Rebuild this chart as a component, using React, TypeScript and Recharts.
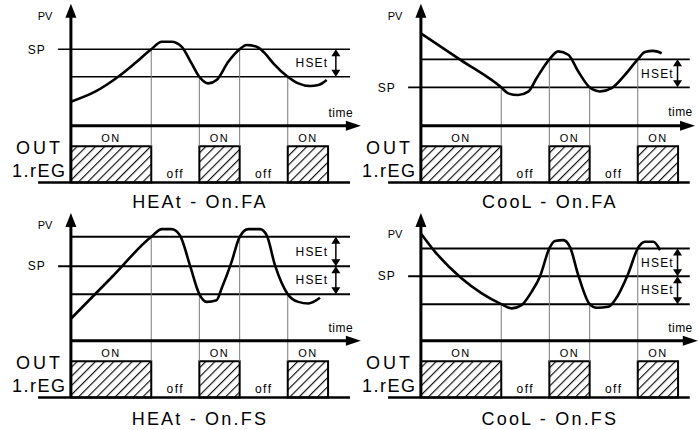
import React from 'react';
import { ComposedChart, Line, XAxis, YAxis, ReferenceLine, ReferenceArea, ReferenceDot } from 'recharts';

const FONT = "'Liberation Sans', Arial, sans-serif";

// PV curves (time units / PV units)
const HEAT_FA_T = [0, 8.7, 17.0, 23.0, 28.9, 32.7, 36.2, 39.8, 43.4, 46.2, 49.4, 52.4, 56.6, 60.7, 63.2, 66.8, 69.8, 72.8, 78.0, 81.8, 86.0, 89.0, 92.0];
const HEAT_FA_PV = [19.9, 28.2, 40.6, 51.7, 63.4, 69.6, 69.6, 65.5, 51.7, 40.6, 35.1, 37.9, 53.0, 63.4, 66.9, 65.5, 60.0, 51.7, 40.6, 35.1, 32.9, 33.7, 37.9];

const COOL_FA_T = [0, 14.5, 28.9, 31.4, 35.0, 38.6, 41.6, 46.2, 49.4, 53.0, 56.6, 60.7, 64.4, 68.6, 73.4, 78.0, 80.6, 83.5, 86.6];
const COOL_FA_PV = [76.6, 54.2, 31.8, 26.8, 25.4, 28.2, 39.3, 55.0, 61.6, 58.8, 45.0, 31.8, 28.4, 31.2, 42.2, 55.0, 61.0, 62.0, 60.1];

const HEAT_FS_T = [0, 14.5, 28.9, 32.7, 36.2, 39.2, 42.8, 46.2, 48.8, 52.4, 54.2, 57.8, 60.7, 63.8, 68.0, 70.4, 73.4, 78.0, 81.8, 85.4, 89.6];
const HEAT_FS_PV = [18.2, 52.2, 86.1, 92.5, 92.5, 87.5, 62.6, 38.6, 32.2, 33.6, 43.3, 65.4, 86.1, 92.5, 92.5, 87.5, 62.6, 38.6, 32.2, 30.9, 35.6];

const COOL_FS_T = [0, 5.1, 14.7, 21.9, 28.9, 32.7, 36.2, 39.8, 42.8, 46.2, 48.2, 51.2, 53.6, 56.6, 60.7, 63.2, 67.4, 69.8, 74.6, 78.0, 80.6, 83.6, 86.0];
const COOL_FS_PV = [88.9, 73.7, 51.6, 39.2, 30.3, 26.8, 29.5, 40.5, 53.0, 76.5, 82.6, 83.4, 77.8, 54.4, 30.3, 27.3, 28.1, 33.7, 55.8, 76.5, 82.0, 82.0, 75.1];

// horizontal levels, top to bottom
const HEAT_FA_LEVELS = [63.4, 40.6];
const COOL_FA_LEVELS = [55.0, 31.8];
const HEAT_FS_LEVELS = [86.1, 61.8, 38.6];
const COOL_FS_LEVELS = [76.5, 53.5, 30.3];

// output switching instants and states
const SWITCH_T = [0, 28.9, 46.2, 60.7, 78.0, 92.5];
const OUT_STATES = ['ON', 'off', 'ON', 'off', 'ON'];
const TITLES = ['HEAt - On.FA', 'CooL - On.FA', 'HEAt - On.FS', 'CooL - On.FS'];

const BOX_TOP = -17;
const BASE = -47;

type Panel = {
  title: string;
  t: number[];
  pv: number[];
  levels: number[];
  sp: number;
  switchLevel: number[];
  left: number;
  top: number;
  lineEnd: number;
  timeTip: number;
  yTip: number;
  pvY: number;
  hsetX: number;
  arrowX: number;
  timeX: number;
  timeY: number;
  titleY: number;
  levelWidth: number;
};

const PANELS: Panel[] = [
  { title: TITLES[0], t: HEAT_FA_T, pv: HEAT_FA_PV, levels: HEAT_FA_LEVELS, sp: 0, switchLevel: [0, 1, 0, 1],
    left: 0, top: -7, lineEnd: 100.4, timeTip: 104.3, yTip: 101, pvY: 90.9, hsetX: 86.7, arrowX: 95.3, timeX: 101.5, timeY: 10.5, titleY: -62.8, levelWidth: 1.6 },
  { title: TITLES[1], t: COOL_FA_T, pv: COOL_FA_PV, levels: COOL_FA_LEVELS, sp: 1, switchLevel: [1, 0, 1, 0],
    left: 350, top: -7, lineEnd: 96.7, timeTip: 98.6, yTip: 101, pvY: 90.9, hsetX: 85.1, arrowX: 92.3, timeX: 97.8, timeY: 12, titleY: -62.8, levelWidth: 1.6 },
  { title: TITLES[2], t: HEAT_FS_T, pv: HEAT_FS_PV, levels: HEAT_FS_LEVELS, sp: 1, switchLevel: [0, 2, 0, 2],
    left: 0, top: 208, lineEnd: 100.4, timeTip: 104.3, yTip: 105.8, pvY: 95.8, hsetX: 86.7, arrowX: 95.3, timeX: 101.5, timeY: 10.4, titleY: -64.6, levelWidth: 2 },
  { title: TITLES[3], t: COOL_FS_T, pv: COOL_FS_PV, levels: COOL_FS_LEVELS, sp: 1, switchLevel: [2, 0, 2, 0],
    left: 350, top: 208, lineEnd: 96.7, timeTip: 99.6, yTip: 105.8, pvY: 88.4, hsetX: 85.1, arrowX: 92.3, timeX: 97.8, timeY: 10.5, titleY: -64.6, levelWidth: 2 },
];

const txt = (key: string, x: number, y: number, label: string, size: number, anchor = 'middle', spacing = 0) => (
  <ReferenceDot
    key={key}
    x={x}
    y={y}
    r={0}
    ifOverflow="visible"
    shape={(p: any) => (
      <text x={p.cx} y={p.cy} dy="0.36em" textAnchor={anchor} fontSize={size} fontFamily={FONT} letterSpacing={spacing} fill="#000">
        {label}
      </text>
    )}
  />
);

const head = (key: string, x: number, y: number, dir: string, len: number, wid: number) => (
  <ReferenceDot
    key={key}
    x={x}
    y={y}
    r={0}
    ifOverflow="visible"
    shape={(p: any) => {
      const { cx, cy } = p;
      let pts = '';
      if (dir === 'up') pts = `${cx},${cy} ${cx - wid / 2},${cy + len} ${cx + wid / 2},${cy + len}`;
      if (dir === 'down') pts = `${cx},${cy} ${cx - wid / 2},${cy - len} ${cx + wid / 2},${cy - len}`;
      if (dir === 'right') pts = `${cx},${cy} ${cx - len},${cy - wid / 2} ${cx - len},${cy + wid / 2}`;
      return <polygon points={pts} fill="#000" />;
    }}
  />
);

const seg = (key: string, x1: number, y1: number, x2: number, y2: number, w: number, color = '#000') => (
  <ReferenceLine key={key} segment={[{ x: x1, y: y1 }, { x: x2, y: y2 }]} stroke={color} strokeWidth={w} ifOverflow="visible" />
);

const PanelChart = ({ p }: { p: Panel }) => {
  const data = p.t.map((t, i) => ({ t, pv: p.pv[i] }));
  const items: React.ReactNode[] = [];

  // horizontal levels
  p.levels.forEach((lv, i) => {
    items.push(seg(`lv${i}`, i === p.sp ? -4.6 : 0, lv, p.lineEnd, lv, p.levelWidth));
  });

  // switching instants: thin verticals from the crossing level down to the output row
  SWITCH_T.slice(1, 5).forEach((t, i) => {
    items.push(seg(`sw${i}`, t, p.levels[p.switchLevel[i]], t, BOX_TOP, 1, '#7a7a7a'));
  });

  // output row boxes and labels
  OUT_STATES.forEach((s, i) => {
    const x1 = SWITCH_T[i];
    const x2 = SWITCH_T[i + 1];
    const mid = (x1 + x2) / 2;
    if (s === 'ON') {
      items.push(
        <ReferenceArea key={`box${i}`} x1={x1} x2={x2} y1={BASE} y2={BOX_TOP} fill="url(#hatch)" fillOpacity={1} stroke="#000" strokeWidth={2} ifOverflow="visible" />
      );
      items.push(txt(`on${i}`, mid, -10, s, 11, 'middle', 1.5));
    } else {
      items.push(txt(`off${i}`, mid, -39.4, s, 12, 'middle', 1.5));
    }
  });

  // HSEt arrows between consecutive levels
  for (let i = 0; i < p.levels.length - 1; i++) {
    const a = p.levels[i];
    const b = p.levels[i + 1];
    items.push(seg(`ha${i}`, p.arrowX, a - 3, p.arrowX, b + 3, 1.5));
    items.push(head(`hu${i}`, p.arrowX, a, 'up', 7, 9));
    items.push(head(`hd${i}`, p.arrowX, b, 'down', 7, 9));
    items.push(txt(`hs${i}`, p.hsetX, (a + b) / 2, 'HSEt', 12, 'middle', 1.2));
  }

  return (
    <div style={{ position: 'absolute', left: p.left, top: p.top }}>
      <ComposedChart width={372} height={222} data={data} margin={{ top: 0, right: 0, bottom: 0, left: 0 }}>
        <XAxis dataKey="t" type="number" domain={[-25.5, 108.3]} hide allowDataOverflow />
        <YAxis type="number" domain={[-74, 110]} hide allowDataOverflow />
        {items}
        {/* axes */}
        {seg('yaxis', 0, BASE, 0, p.yTip - 9, 3)}
        {head('ytip', 0, p.yTip, 'up', 14, 11)}
        {seg('taxis', 0, 0, p.timeTip - 4, 0, 3)}
        {head('ttip', p.timeTip, 0, 'right', 15, 10)}
        {seg('base', -11.8, BASE, p.lineEnd, BASE, 2.5)}
        {txt('pv', -9.3, p.pvY, 'PV', 11)}
        {txt('sp', -9.0, p.levels[p.sp], 'SP', 12, 'end', 1)}
        {txt('time', p.timeX, p.timeY, 'time', 12, 'end', 0.5)}
        {txt('out', -2.8, -17.8, 'OUT', 18, 'end', 3)}
        {txt('reg', -1.6, -36.8, '1.rEG', 18, 'end', 1.5)}
        {txt('title', 46.4, p.titleY, p.title, 18, 'middle', 2.2)}
        <Line dataKey="pv" type="monotone" stroke="#000" strokeWidth={2.6} dot={false} activeDot={false} isAnimationActive={false} />
      </ComposedChart>
    </div>
  );
};

export default function App() {
  return (
    <div style={{ position: 'absolute', left: 0, top: 0, width: 699, height: 430, overflow: 'hidden', background: '#fff' }}>
      <svg width={0} height={0} style={{ position: 'absolute' }}>
        <defs>
          <pattern id="hatch" patternUnits="userSpaceOnUse" width={6.5} height={6.5} patternTransform="rotate(45)">
            <line x1={0.6} y1={0} x2={0.6} y2={6.5} stroke="#000" strokeWidth={1.1} />
          </pattern>
        </defs>
      </svg>
      {PANELS.map((p, i) => (
        <PanelChart key={i} p={p} />
      ))}
    </div>
  );
}
